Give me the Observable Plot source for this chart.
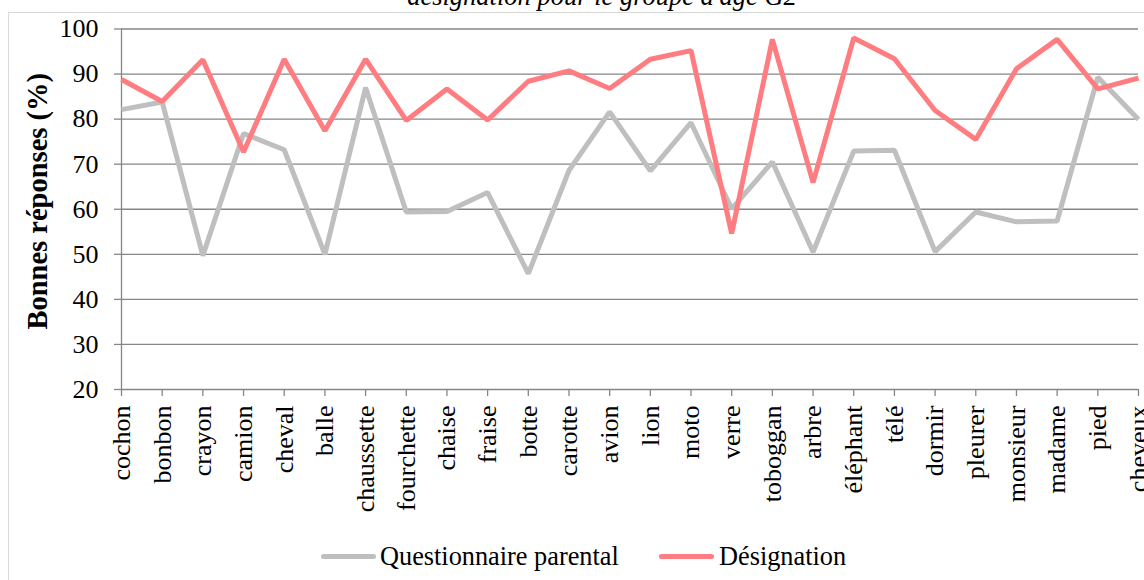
<!DOCTYPE html>
<html>
<head>
<meta charset="utf-8">
<script src="https://cdn.jsdelivr.net/npm/d3@7"></script>
<script src="https://cdn.jsdelivr.net/npm/@observablehq/plot@0.6"></script>
<style>
  html, body { margin: 0; padding: 0; background: #fff; overflow: hidden; }
  #wrap { position: relative; width: 1144px; height: 580px; overflow: hidden; font-family: "Liberation Serif", "Times New Roman", serif; }
  #border { position: absolute; left: 8px; top: 12px; width: 1300px; height: 700px; border: 1px solid #d9d9d9; box-sizing: border-box; }
  #title { position: absolute; left: 60px; width: 1084px; top: -17px; text-align: center; font-style: italic; font-size: 26.5px; line-height: 26px; white-space: nowrap; color: #000; }
  #chart { position: absolute; left: 0; top: 0; }
  .sw { position: absolute; height: 5px; width: 55px; border-radius: 2.5px; top: 553.5px; }
  .lt { position: absolute; top: 544px; font-size: 26.3px; line-height: 26px; white-space: nowrap; color: #000; }
</style>
</head>
<body>
<div id="wrap">
  <div id="border"></div>
  <div id="title">désignation pour le groupe d'âge G2</div>
  <div id="chart"></div>
  <span class="sw" style="left:321px;background:#bfbfbf"></span>
  <span class="lt" style="left:380px">Questionnaire parental</span>
  <span class="sw" style="left:659px;background:#ff7c80"></span>
  <span class="lt" style="left:719px">Désignation</span>
</div>
<script>
const categories = ["cochon","bonbon","crayon","camion","cheval","balle","chaussette","fourchette","chaise","fraise","botte","carotte","avion","lion","moto","verre","toboggan","arbre","éléphant","télé","dormir","pleurer","monsieur","madame","pied","cheveux"];
const parental = [82.1, 83.8, 49.7, 76.8, 73.2, 50.0, 87.0, 59.4, 59.5, 63.7, 45.7, 68.6, 81.6, 68.5, 79.2, 60.1, 70.5, 50.5, 72.9, 73.1, 50.6, 59.4, 57.2, 57.4, 89.3, 79.9];
const designation = [88.8, 83.9, 93.2, 72.7, 93.3, 77.4, 93.3, 79.7, 86.7, 79.8, 88.4, 90.7, 86.8, 93.3, 95.2, 54.6, 97.7, 65.9, 98.0, 93.4, 81.9, 75.5, 91.2, 97.7, 86.7, 89.1];
const yTicks = [20, 30, 40, 50, 60, 70, 80, 90, 100];
const yTitle = "Bonnes réponses (%)";

const gridColor = "#868686";

const chart = Plot.plot({
  width: 1144,
  height: 530,
  marginTop: 28.5,
  marginBottom: 141,
  marginLeft: 121,
  marginRight: 6,
  style: {fontFamily: "'Liberation Serif', 'Times New Roman', serif", fontSize: "26px", background: "transparent", overflow: "visible", color: "#000"},
  x: {type: "point", domain: categories, padding: 0, round: false},
  y: {domain: [20, 100]},
  marks: [
    Plot.gridY(yTicks, {stroke: gridColor, strokeOpacity: 1, strokeWidth: 1.3}),
    Plot.ruleX([categories[0]], {stroke: gridColor, strokeWidth: 1.3}),
    Plot.axisY(yTicks, {tickSize: 7, tickPadding: 16, stroke: gridColor, strokeWidth: 1.3, label: null, fontSize: 26}),
    Plot.axisX({tickSize: 7, tickPadding: 9, tickRotate: -90, stroke: gridColor, strokeWidth: 1.3, label: null, fontSize: 26}),
    Plot.line(categories, {x: d => d, y: (d, i) => parental[i], stroke: "#bfbfbf", strokeWidth: 5, strokeLinejoin: "miter", strokeLinecap: "butt"}),
    Plot.line(categories, {x: d => d, y: (d, i) => designation[i], stroke: "#ff7c80", strokeWidth: 5, strokeLinejoin: "miter", strokeLinecap: "butt"}),
    Plot.text([yTitle], {text: d => d, frameAnchor: "left", textAnchor: "middle", lineAnchor: "middle", rotate: -90, dx: -84, dy: -8, fontSize: 28.5, fontWeight: "bold", fill: "#000"})
  ]
});
document.getElementById("chart").appendChild(chart);
</script>
</body>
</html>
